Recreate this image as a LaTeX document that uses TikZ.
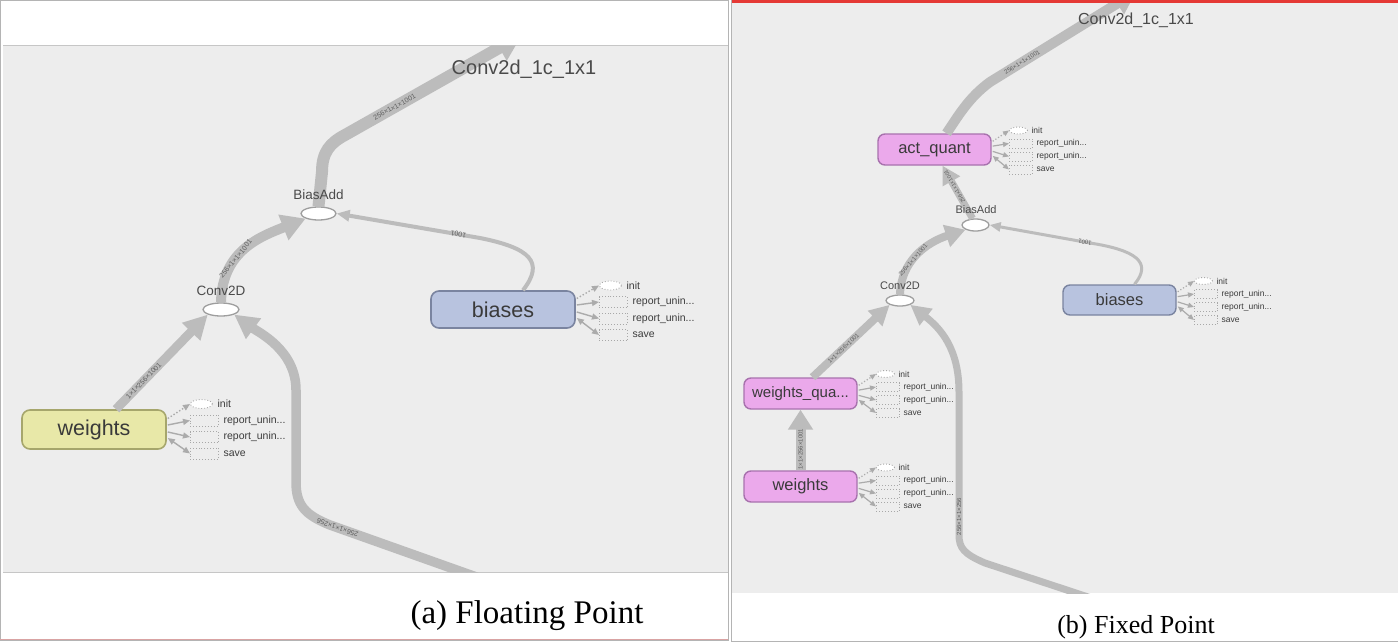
\documentclass[tikz,border=0pt]{standalone}
\usepackage{fontspec}
\setmainfont{Liberation Sans}
\setsansfont{Liberation Sans}
\newfontfamily\capfont{Liberation Serif}
\usetikzlibrary{arrows.meta,shapes.geometric}
\definecolor{bggray}{HTML}{EDEDED}
\definecolor{edgegray}{HTML}{BCBCBC}
\definecolor{ellgray}{HTML}{9E9E9E}
\definecolor{auxgray}{HTML}{A8A8A8}
\definecolor{auxarrow}{HTML}{ABABAB}
\definecolor{auxtext}{HTML}{3C3C3C}
\definecolor{lblgray}{HTML}{4A4A4A}
\definecolor{elblgray}{HTML}{5E5E5E}
\definecolor{wfill}{HTML}{E8E8A8}
\definecolor{wdraw}{HTML}{A6A66C}
\definecolor{bfill}{HTML}{B8C3DF}
\definecolor{bdraw}{HTML}{7A84A0}
\definecolor{pfill}{HTML}{EBA9EB}
\definecolor{pdraw}{HTML}{A872AE}
\definecolor{nodetext}{HTML}{3A3A3A}
\definecolor{framegray}{HTML}{B4B4B4}
\definecolor{sepgray}{HTML}{C6C6C6}
\definecolor{pinkline}{HTML}{D9A3A3}
\definecolor{redline}{HTML}{E53935}
\newcommand\fsz[1]{\fontsize{#1}{#1}\selectfont}
\tikzset{
  bigedge/.style={draw=edgegray, line cap=butt},
  opell/.style={ellipse, draw=ellgray, line width=1.3pt, fill=white, inner sep=0pt},
  oplbl/.style={text=lblgray, inner sep=0pt},
  bignode/.style={rectangle, rounded corners=8pt, line width=1.6pt, inner sep=0pt, text=nodetext},
  initnode/.style={ellipse, draw=auxgray, dotted, line width=0.9pt, fill=white, inner sep=0pt},
  auxbox/.style={rectangle, draw=auxgray, dotted, line width=0.9pt, inner sep=0pt},
  auxlbl/.style={text=auxtext, inner sep=0pt, anchor=west},
  auxarr/.style={draw=auxarrow, line width=1.4pt, -{Triangle[length=7pt,width=6pt]}},
  auxarrb/.style={draw=auxarrow, line width=1.4pt, {Triangle[length=7pt,width=6pt]}-{Triangle[length=7pt,width=6pt]}},
  elbl/.style={sloped, allow upside down, text=elblgray, inner sep=0pt},
  titlelbl/.style={text=lblgray, inner sep=0pt}
}
\newcommand\auxgrp[6]{%
  \pgfmathsetmacro\auxA{11*#6}%
  \pgfmathsetmacro\auxB{4.5*#6}%
  \pgfmathsetmacro\auxC{2.5*#6}%
  \pgfmathsetmacro\auxD{8.5*#6}%
  \node[initnode, anchor=west] (#1i) at (#3,#4) {};
  \node[auxbox, anchor=west] (#1r) at (#3,#4+#5) {};
  \node[auxbox, anchor=west] (#1s) at (#3,#4+2*#5) {};
  \node[auxbox, anchor=west] (#1v) at (#3,#4+3*#5) {};
  \node[auxlbl] (#1ti) at (#1i.east) {init};
  \node[auxlbl] (#1tr) at (#1r.east) {report\_unin...};
  \node[auxlbl] (#1ts) at (#1s.east) {report\_unin...};
  \node[auxlbl] (#1tv) at (#1v.east) {save};
  \draw[auxarr, dotted] ([xshift=1pt,yshift=\auxA pt]#2.east) -- (#1i.west);
  \draw[auxarr] ([xshift=1pt,yshift=\auxB pt]#2.east) -- (#1r.west);
  \draw[auxarr] ([xshift=1pt,yshift=-\auxC pt]#2.east) -- (#1s.west);
  \draw[auxarrb] ([xshift=1pt,yshift=-\auxD pt]#2.east) -- (#1v.west);
}
\begin{document}
\begin{tikzpicture}[x=1pt,y=-1pt]
\useasboundingbox (0,0) rectangle (1398,642);
\fill[white] (0,0) rectangle (1398,642);
% ---------- left panel frame ----------
\draw[framegray, line width=1pt] (0.5,0.5) rectangle (728.5,640.5);
\fill[bggray] (3,46) rectangle (728,572);
\draw[sepgray, line width=1.5pt] (3,45.5) -- (728,45.5);
\draw[sepgray, line width=1.5pt] (3,572.5) -- (728,572.5);
\draw[pinkline, line width=1pt] (0,639.5) -- (728,639.5);
% ---------- right panel frame ----------
\fill[bggray] (732,3) rectangle (1398,593);
\draw[framegray, line width=1pt] (731.5,0) -- (731.5,642);
\draw[framegray, line width=1pt] (732,641) -- (1398,641);

% ================= LEFT =================
\begin{scope}[initnode/.append style={minimum width=22pt, minimum height=9pt},
  auxbox/.append style={minimum width=28pt, minimum height=11pt},
  auxlbl/.append style={font=\fsz{10.5}, xshift=4.5pt},
  oplbl/.append style={font=\fsz{13.5}},
  elbl/.append style={font=\fsz{7}}]
\clip (3,46) rectangle (728,572);
\node[bignode, fill=wfill, draw=wdraw, minimum width=144pt, minimum height=39pt, font=\fsz{21.5}] (lw) at (94,429.5) {weights};
\node[bignode, fill=bfill, draw=bdraw, minimum width=144pt, minimum height=37pt, font=\fsz{21.5}] (lb) at (503,309.5) {biases};
\node[opell, minimum width=35pt, minimum height=13pt] (lba) at (318.5,213.5) {};
\node[opell, minimum width=36pt, minimum height=13pt] (lcv) at (221,309.5) {};
\coordinate (ltop) at (522,35);
\coordinate (lbot) at (482,579);

\draw[bigedge, line width=12pt, -{Triangle[length=26pt,width=28pt]}] (lba.north) -- (322,172) .. controls (322,152) and (330,143) .. (345,135) -- node[elbl, pos=0.28]{256×1×1×1001} (ltop);
\draw[bigedge, line width=10pt, -{Triangle[length=24pt,width=26pt]}] (lcv.north) .. controls (222,250) and (262,236) .. node[elbl, pos=0.36]{256×1×1×1001} (lba.south west);
\draw[bigedge, line width=9pt, -{Triangle[length=24pt,width=24pt]}] ([xshift=22pt]lw.north) -- node[elbl, pos=0.3]{1×1×256×1001} (lcv.south west);
\draw[bigedge, line width=9.5pt, -{Triangle[length=24pt,width=24pt]}] (lbot) -- node[elbl, pos=0.95]{256×1×1×256} (330,525) .. controls (305,515) and (296,505) .. (296,482) -- (296,390) .. controls (296,350) and (258,332) .. (lcv.south east);
\draw[bigedge, line width=4pt, -{Triangle[length=13pt,width=11pt]}] ([xshift=20pt]lb.north) .. controls (545,262) and (530,248) .. (480,238) -- node[elbl, pos=0.15]{1001} (lba.east);

\node[oplbl] (lbal) at (318.5,195) {BiasAdd};
\node[oplbl] (lcvl) at (221,291) {Conv2D};
\node[titlelbl, font=\fsz{20}] (lt) at (524,69) {Conv2d\_1c\_1x1};

\auxgrp{lwa}{lw}{190}{404}{16.5}{1}
\auxgrp{lbx}{lb}{599}{285.5}{16.5}{1}
\end{scope}

% ================= RIGHT =================
\begin{scope}[initnode/.append style={minimum width=18pt, minimum height=7pt},
  auxbox/.append style={minimum width=23pt, minimum height=9pt},
  auxlbl/.append style={font=\fsz{8.5}, xshift=3.5pt},
  auxarr/.style={draw=auxarrow, line width=1.2pt, -{Triangle[length=6pt,width=5pt]}},
  auxarrb/.style={draw=auxarrow, line width=1.2pt, {Triangle[length=6pt,width=5pt]}-{Triangle[length=6pt,width=5pt]}},
  oplbl/.append style={font=\fsz{11}},
  elbl/.append style={font=\fsz{6}},
  bignode/.append style={rounded corners=7pt, line width=1.4pt}]
\clip (732,3) rectangle (1398,593);
\node[bignode, fill=pfill, draw=pdraw, minimum width=113pt, minimum height=31pt, font=\fsz{16.5}] (raq) at (934.5,149.5) {act\_quant};
\node[bignode, fill=bfill, draw=bdraw, minimum width=113pt, minimum height=30pt, font=\fsz{16.5}] (rbi) at (1119.5,300) {biases};
\node[bignode, fill=pfill, draw=pdraw, minimum width=113pt, minimum height=31pt, font=\fsz{15}] (rwq) at (800.5,393.5) {weights\_qua...};
\node[bignode, fill=pfill, draw=pdraw, minimum width=113pt, minimum height=31pt, font=\fsz{16.5}] (rw) at (800.5,486.5) {weights};
\node[opell, minimum width=27pt, minimum height=12pt] (rba) at (975.5,225) {};
\node[opell, minimum width=28pt, minimum height=11pt] (rcv) at (900,300.5) {};
\coordinate (rtop) at (1136,-8);
\coordinate (rbot) at (1091,598);

\draw[bigedge, line width=10pt, -{Triangle[length=22pt,width=24pt]}] ([xshift=12pt]raq.north) .. controls (957,118) and (968,98) .. (990,82) -- node[elbl, pos=0.22]{256×1×1×1001} (rtop);
\draw[bigedge, line width=7pt, -{Triangle[length=18pt,width=19pt]}] ([xshift=-3pt]rba.north) -- node[elbl, pos=0.6, font=\fsz{5.5}]{256×1×1×1001} ([xshift=8pt]raq.south);
\draw[bigedge, line width=8pt, -{Triangle[length=20pt,width=22pt]}] (rcv.north) .. controls (901,262) and (925,243) .. node[elbl, pos=0.42]{256×1×1×1001} (rba.south west);
\draw[bigedge, line width=8pt, -{Triangle[length=20pt,width=20pt]}] ([xshift=12pt]rwq.north) -- node[elbl, pos=0.4]{1×1×256×1001} (rcv.south west);
\draw[bigedge, line width=10pt, -{Triangle[length=20pt,width=24pt]}] (rw.north) -- node[elbl, pos=0.35]{1×1×256×1001} (rwq.south);
\draw[bigedge, line width=7pt, -{Triangle[length=20pt,width=20pt]}] (rbot) -- (985,563) .. controls (964,554) and (959,548) .. (959,535) -- node[elbl, pos=0.13]{256×1×1×256} (959,392) .. controls (959,348) and (940,328) .. (rcv.south east);
\draw[bigedge, line width=3pt, -{Triangle[length=11pt,width=9pt]}] ([xshift=15pt]rbi.north) .. controls (1153,262) and (1135,250) .. (1090,243) -- node[elbl, pos=0.05]{1001} (rba.east);

\node[oplbl] (rbal) at (976,210) {BiasAdd};
\node[oplbl] (rcvl) at (900,286) {Conv2D};
\node[titlelbl, font=\fsz{16}] (rt) at (1136,20) {Conv2d\_1c\_1x1};

\auxgrp{raa}{raq}{1009}{130.5}{13}{0.75}
\auxgrp{rbb}{rbi}{1194}{281}{13}{0.75}
\auxgrp{rqa}{rwq}{876}{374}{13}{0.75}
\auxgrp{rwa}{rw}{876}{467.5}{13}{0.75}
\end{scope}
\fill[redline] (732,0) rectangle (1398,3);

% ---------- captions ----------
\node[anchor=base, inner sep=0pt, font=\capfont\fsz{33}] (capa) at (527,623) {(a) Floating Point};
\node[anchor=base, inner sep=0pt, font=\capfont\fsz{26}] (capb) at (1136,633) {(b) Fixed Point};
\end{tikzpicture}
\end{document}
